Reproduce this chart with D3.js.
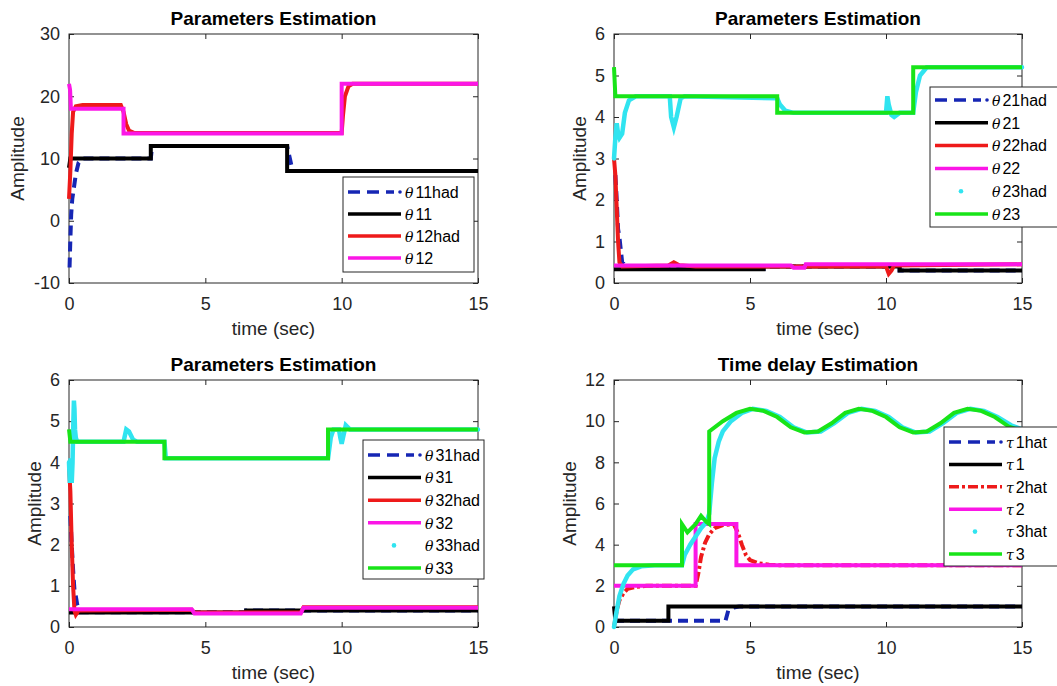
<!DOCTYPE html>
<html>
<head>
<meta charset="utf-8">
<script src="https://cdn.jsdelivr.net/npm/d3@7"></script>
<style>
  body { margin: 0; background: #fff; }
  svg { display: block; font-family: "Liberation Sans", Arial, sans-serif; }
</style>
</head>
<body>
<svg id="chart"></svg>
<script>
// tick labels
const timeTicks = [0, 5, 10, 15];
const theta1Ticks = [-10, 0, 10, 20, 30];
const thetaTicks = [0, 1, 2, 3, 4, 5, 6];
const tauTicks = [0, 2, 4, 6, 8, 10, 12];

// panel 1 : [time, value]
const theta11had = [[0.02,-7.5],[0.05,-3],[0.08,1],[0.12,3.5],[0.17,5],[0.25,7.5],[0.35,9.3],[0.5,10],[3,10],[3.05,12],[8,12],[8.1,10],[8.2,8],[15,8]];
const theta11 = [[0,8.5],[0.05,10],[3,10],[3,12],[8,12],[8,8],[15,8]];
const theta12had = [[0,3.5],[0.05,8],[0.1,14],[0.15,17.5],[0.25,18.4],[0.5,18.6],[1.9,18.6],[2.0,17.5],[2.1,15.5],[2.2,14.5],[2.4,14.1],[10,14.1],[10.05,17],[10.12,20],[10.25,21.6],[10.4,22],[15,22]];
const theta12 = [[0,22],[0.04,21],[0.07,18],[2,18],[2,14],[10,14],[10,22],[15,22]];

// panel 2
const theta21had = [[0.05,2.6],[0.1,2.0],[0.15,1.3],[0.2,1.1],[0.25,0.8],[0.3,0.5],[0.4,0.45],[0.6,0.34],[5.5,0.34],[5.5,0.4],[10.5,0.4],[10.5,0.3],[15,0.3]];
const theta21 = [[0,0.33],[5.5,0.33],[5.5,0.4],[10.5,0.4],[10.5,0.3],[15,0.3]];
const theta22had = [[0,3.0],[0.05,2.6],[0.1,1.8],[0.15,1.0],[0.2,0.5],[0.3,0.4],[2.0,0.42],[2.2,0.5],[2.4,0.43],[3,0.4],[10,0.4],[10.1,0.22],[10.2,0.3],[10.3,0.42],[15,0.45]];
const theta22 = [[0,0.42],[6.5,0.42],[6.6,0.37],[7,0.37],[7.05,0.45],[15,0.45]];
const theta23had = [[0,3.0],[0.05,3.5],[0.1,3.85],[0.15,3.6],[0.2,3.5],[0.3,3.6],[0.4,4.1],[0.55,4.4],[0.8,4.5],[2.05,4.5],[2.1,4.0],[2.2,3.75],[2.3,4.0],[2.45,4.45],[2.6,4.5],[6.0,4.45],[6.1,4.3],[6.3,4.15],[6.6,4.1],[10.0,4.1],[10.05,4.5],[10.1,4.3],[10.2,4.05],[10.3,4.0],[10.5,4.1],[11.0,4.1],[11.1,4.6],[11.25,5.0],[11.5,5.2],[15,5.2]];
const theta23 = [[0,5.2],[0.05,4.5],[6,4.5],[6,4.1],[11,4.1],[11,5.2],[15,5.2]];

// panel 3
const theta31had = [[0.05,2.7],[0.1,2.0],[0.15,1.4],[0.2,0.9],[0.25,0.75],[0.3,0.55],[0.4,0.36],[6.5,0.36],[6.5,0.4],[15,0.4]];
const theta31 = [[0,0.35],[6.5,0.35],[6.5,0.4],[15,0.4]];
const theta32had = [[0,3.9],[0.05,3.3],[0.1,2.0],[0.15,1.0],[0.2,0.4],[0.25,0.3],[0.35,0.4],[4.5,0.42],[4.6,0.35],[8.5,0.35],[8.6,0.48],[15,0.48]];
const theta32 = [[0,0.43],[4.5,0.43],[4.6,0.33],[8.5,0.33],[8.6,0.47],[15,0.47]];
const theta33had = [[0,4.0],[0.03,3.5],[0.06,4.1],[0.1,3.5],[0.13,4.0],[0.16,5.0],[0.18,5.5],[0.2,5.3],[0.22,4.8],[0.25,4.6],[0.3,4.5],[2.0,4.5],[2.1,4.8],[2.2,4.75],[2.35,4.55],[2.5,4.5],[3.5,4.5],[3.55,4.1],[9.5,4.1],[9.6,4.6],[9.7,4.8],[9.9,4.8],[9.95,4.6],[10.0,4.45],[10.05,4.6],[10.15,4.9],[10.3,4.8],[15,4.8]];
const theta33 = [[0,4.8],[0.05,4.5],[3.5,4.5],[3.5,4.1],[9.5,4.1],[9.5,4.8],[15,4.8]];

// panel 4
const tau1hat = [[0,0.3],[4.1,0.3],[4.2,0.8],[4.4,0.95],[4.6,1.0],[15,1.0]];
const tau1 = [[0,1],[0.05,0.3],[2,0.3],[2,1],[15,1]];
const tau2hat = [[0,0],[0.1,0.8],[0.2,1.3],[0.35,1.65],[0.5,1.85],[0.8,1.95],[1.2,2.0],[3.0,2.0],[3.1,2.6],[3.2,3.4],[3.35,4.1],[3.5,4.5],[3.7,4.8],[4.0,4.95],[4.4,5.0],[4.55,4.6],[4.7,4.0],[4.85,3.5],[5.0,3.25],[5.3,3.1],[5.7,3.03],[6,3],[15,3]];
const tau2 = [[0,2],[3,2],[3,5],[4.5,5],[4.5,3],[15,3]];
const tau3hat = [[0,0],[0.1,0.8],[0.2,1.5],[0.35,2.1],[0.5,2.5],[0.7,2.8],[1.0,2.95],[1.5,3.0],[2.5,3.0],[2.6,3.5],[2.8,4.0],[3.0,4.4],[3.2,4.8],[3.4,5.1],[3.5,5.5],[3.6,7.0],[3.7,8.2],[3.85,9.0],[4.0,9.5],[4.3,10.0],[4.7,10.4],[5.1,10.6],[5.6,10.5],[6.1,10.2],[6.6,9.7],[7.1,9.45],[7.6,9.5],[8.1,9.9],[8.6,10.4],[9.1,10.6],[9.6,10.5],[10.1,10.2],[10.6,9.7],[11.1,9.45],[11.6,9.5],[12.1,9.9],[12.6,10.4],[13.1,10.6],[13.6,10.5],[14.1,10.2],[14.6,9.8],[15,9.6]];
const tau3 = [[0,3],[2.5,3],[2.5,5],[2.7,4.6],[3.0,5.0],[3.2,5.4],[3.4,5.1],[3.5,5.0],[3.5,9.5],[4,10.0],[4.5,10.4],[5,10.6],[5.5,10.5],[6,10.2],[6.5,9.7],[7,9.45],[7.5,9.5],[8,9.9],[8.5,10.4],[9,10.6],[9.5,10.5],[10,10.2],[10.5,9.7],[11,9.45],[11.5,9.5],[12,9.9],[12.5,10.4],[13,10.6],[13.5,10.5],[14,10.2],[14.5,9.75],[15,9.5]];

const BLUE = "#1626b4", BLACK = "#000", RED = "#ee1a1a", MAGENTA = "#fb16e6", CYAN = "#30e4f0", GREEN = "#18e418";

class EstimationPlot {
  constructor(_config, _series) {
    this.config = {
      parentElement: _config.parentElement,
      left: _config.left,
      top: _config.top,
      width: _config.width,
      height: _config.height,
      yDomain: _config.yDomain,
      yTicks: _config.yTicks,
      title: _config.title,
      yLabelX: _config.yLabelX,
      legend: _config.legend
    }
    this.series = _series;
    this.initVis();
  }

  initVis() {
    let vis = this;
    let c = vis.config;

    vis.chart = d3.select(c.parentElement).append('g')
        .attr('transform', `translate(${c.left},${c.top})`);

    vis.xScale = d3.scaleLinear().domain([0, 15]).range([0, c.width]);
    vis.yScale = d3.scaleLinear().domain(c.yDomain).range([c.height, 0]);

    // axes, ticks point inward on all four sides
    const styleAxis = g => {
      g.select('.domain').remove();
      g.selectAll('line').attr('stroke', '#262626');
      g.selectAll('text').attr('fill', '#262626').style('font-size', '18px');
    };
    vis.chart.append('g')
        .attr('transform', `translate(0,${c.height})`)
        .call(d3.axisBottom(vis.xScale).tickValues(timeTicks).tickSize(-5).tickPadding(14).tickFormat(d => String(d)))
        .call(styleAxis);
    vis.chart.append('g')
        .call(d3.axisTop(vis.xScale).tickValues(timeTicks).tickSize(-5).tickFormat(''))
        .call(styleAxis);
    vis.chart.append('g')
        .call(d3.axisLeft(vis.yScale).tickValues(c.yTicks).tickSize(-5).tickPadding(9).tickFormat(d => String(d)))
        .call(styleAxis);
    vis.chart.append('g')
        .attr('transform', `translate(${c.width},0)`)
        .call(d3.axisRight(vis.yScale).tickValues(c.yTicks).tickSize(-5).tickFormat(''))
        .call(styleAxis);

    vis.chart.append('rect')
        .attr('width', c.width).attr('height', c.height)
        .attr('fill', 'none').attr('stroke', '#262626').attr('stroke-width', 1);

    // title + labels
    vis.chart.append('text')
        .attr('x', c.width / 2).attr('y', -9)
        .attr('text-anchor', 'middle')
        .style('font-weight', 'bold').style('font-size', '19px')
        .text(c.title);
    vis.chart.append('text')
        .attr('x', c.width / 2).attr('y', c.height + 52)
        .attr('text-anchor', 'middle').attr('fill', '#262626')
        .style('font-size', '19px')
        .text('time (sec)');
    vis.chart.append('text')
        .attr('transform', `translate(${c.yLabelX},${c.height / 2}) rotate(-90)`)
        .attr('text-anchor', 'middle').attr('dy', '0.35em').attr('fill', '#262626')
        .style('font-size', '19px')
        .text('Amplitude');

    vis.renderVis();
  }

  renderVis() {
    let vis = this;
    let c = vis.config;

    const line = d3.line()
        .x(d => vis.xScale(d[0]))
        .y(d => vis.yScale(d[1]));

    vis.chart.selectAll('.series')
      .data(vis.series)
      .join('path')
      .attr('class', 'series')
      .attr('d', d => line(d.data))
      .attr('fill', 'none')
      .attr('stroke', d => d.color)
      .attr('stroke-width', d => d.kind === 'dot' ? 4.5 : 4)
      .attr('stroke-linecap', d => d.kind === 'dot' ? 'round' : 'butt')
      .attr('stroke-dasharray', d => d.kind === 'dash' ? '10,6' : d.kind === 'dashdot' ? '10,3,3,3' : null);

    // legend
    let lg = c.legend;
    let legend = vis.chart.append('g')
        .attr('transform', `translate(${lg.x},${lg.y})`);
    legend.append('rect')
        .attr('width', lg.width).attr('height', lg.height)
        .attr('fill', '#fff').attr('stroke', '#262626').attr('stroke-width', 1);

    let rows = legend.selectAll('.row')
      .data(vis.series)
      .join('g')
      .attr('class', 'row')
      .attr('transform', (d, i) => `translate(0,${lg.firstRow + i * lg.rowStep})`);

    rows.filter(d => d.kind !== 'dot')
      .append('line')
      .attr('x1', 5).attr('x2', d => d.kind === 'dash' ? 51 : 58)
      .attr('stroke', d => d.color).attr('stroke-width', 3.5)
      .attr('stroke-dasharray', d => d.kind === 'dash' ? '12,7' : d.kind === 'dashdot' ? '10,3,3,3' : null);
    rows.filter(d => d.kind === 'dash')
      .append('circle')
      .attr('cx', 57).attr('r', 1.8).attr('fill', d => d.color);
    rows.filter(d => d.kind === 'dot')
      .append('circle')
      .attr('cx', 31).attr('r', 2.3).attr('fill', d => d.color);

    let txt = rows.append('text')
      .attr('x', 62).attr('dy', '0.36em')
      .style('font-size', '16px');
    txt.append('tspan')
      .style('font-style', 'italic').style('font-family', '"DejaVu Serif", serif').style('font-size', '14px')
      .text(d => d.sym);
    txt.append('tspan')
      .attr('dx', 2)
      .text(d => d.name);
  }
}

const svg = d3.select('#chart').attr('width', 1057).attr('height', 686);

new EstimationPlot({
  parentElement: '#chart', left: 69, top: 34, width: 409, height: 249,
  yDomain: [-10, 30], yTicks: theta1Ticks, title: 'Parameters Estimation', yLabelX: -52,
  legend: { x: 274, y: 143, width: 131, height: 95, firstRow: 15, rowStep: 22 }
}, [
  { sym: 'θ', name: '11had', data: theta11had, color: BLUE, kind: 'dash' },
  { sym: 'θ', name: '11', data: theta11, color: BLACK, kind: 'solid' },
  { sym: 'θ', name: '12had', data: theta12had, color: RED, kind: 'solid' },
  { sym: 'θ', name: '12', data: theta12, color: MAGENTA, kind: 'solid' }
]);

new EstimationPlot({
  parentElement: '#chart', left: 614, top: 34, width: 408, height: 249,
  yDomain: [0, 6], yTicks: thetaTicks, title: 'Parameters Estimation', yLabelX: -35,
  legend: { x: 316, y: 53, width: 150, height: 140, firstRow: 13, rowStep: 22.8 }
}, [
  { sym: 'θ', name: '21had', data: theta21had, color: BLUE, kind: 'dash' },
  { sym: 'θ', name: '21', data: theta21, color: BLACK, kind: 'solid' },
  { sym: 'θ', name: '22had', data: theta22had, color: RED, kind: 'solid' },
  { sym: 'θ', name: '22', data: theta22, color: MAGENTA, kind: 'solid' },
  { sym: 'θ', name: '23had', data: theta23had, color: CYAN, kind: 'dot' },
  { sym: 'θ', name: '23', data: theta23, color: GREEN, kind: 'solid' }
]);

new EstimationPlot({
  parentElement: '#chart', left: 69, top: 380, width: 409, height: 247,
  yDomain: [0, 6], yTicks: thetaTicks, title: 'Parameters Estimation', yLabelX: -35,
  legend: { x: 294, y: 60, width: 121, height: 139, firstRow: 15, rowStep: 22.6 }
}, [
  { sym: 'θ', name: '31had', data: theta31had, color: BLUE, kind: 'dash' },
  { sym: 'θ', name: '31', data: theta31, color: BLACK, kind: 'solid' },
  { sym: 'θ', name: '32had', data: theta32had, color: RED, kind: 'solid' },
  { sym: 'θ', name: '32', data: theta32, color: MAGENTA, kind: 'solid' },
  { sym: 'θ', name: '33had', data: theta33had, color: CYAN, kind: 'dot' },
  { sym: 'θ', name: '33', data: theta33, color: GREEN, kind: 'solid' }
]);

new EstimationPlot({
  parentElement: '#chart', left: 614, top: 380, width: 408, height: 247,
  yDomain: [0, 12], yTicks: tauTicks, title: 'Time delay Estimation', yLabelX: -45,
  legend: { x: 330, y: 47, width: 140, height: 139, firstRow: 15, rowStep: 22.4 }
}, [
  { sym: 'τ', name: '1hat', data: tau1hat, color: BLUE, kind: 'dash' },
  { sym: 'τ', name: '1', data: tau1, color: BLACK, kind: 'solid' },
  { sym: 'τ', name: '2hat', data: tau2hat, color: RED, kind: 'dashdot' },
  { sym: 'τ', name: '2', data: tau2, color: MAGENTA, kind: 'solid' },
  { sym: 'τ', name: '3hat', data: tau3hat, color: CYAN, kind: 'dot' },
  { sym: 'τ', name: '3', data: tau3, color: GREEN, kind: 'solid' }
]);
</script>
</body>
</html>
